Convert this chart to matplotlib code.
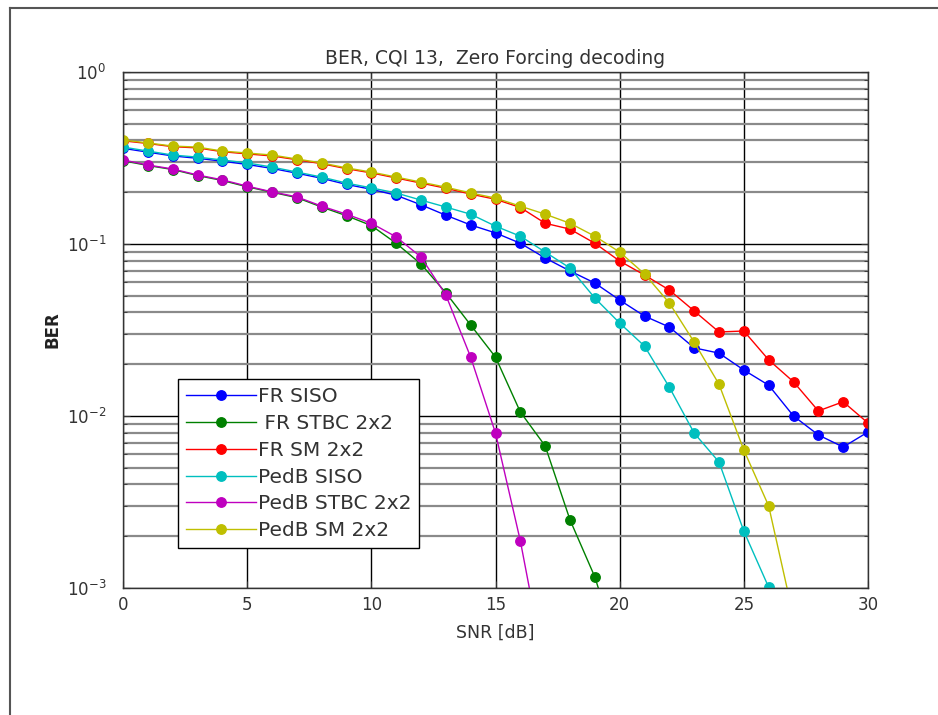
import matplotlib
matplotlib.use("Agg")
import matplotlib.pyplot as plt
from matplotlib.lines import Line2D
from matplotlib.ticker import LogLocator, FixedLocator

plt.rcParams['font.family'] = ['DejaVu Sans']

snr = list(range(0, 31))

fr_siso = [0.36, 0.342, 0.325, 0.315, 0.303, 0.29, 0.275, 0.258, 0.241, 0.222, 0.208, 0.192,
           0.169, 0.147, 0.129, 0.116, 0.101, 0.0829, 0.0697, 0.0593, 0.0472, 0.0381, 0.0329,
           0.0249, 0.0232, 0.0185, 0.0151, 0.0100, 0.00776, 0.0066, 0.00807]
fr_stbc = [0.305, 0.286, 0.271, 0.25, 0.234, 0.215, 0.2, 0.186, 0.164, 0.146, 0.128,
           0.101, 0.0765, 0.052, 0.0338, 0.0220, 0.01055, 0.0067, 0.00249, 0.00116, 0.0004]
fr_sm = [0.398, 0.384, 0.368, 0.362, 0.344, 0.334, 0.325, 0.309, 0.293, 0.274, 0.259, 0.242,
         0.226, 0.211, 0.195, 0.182, 0.163, 0.132, 0.122, 0.101, 0.0796, 0.066, 0.054,
         0.0408, 0.0308, 0.0312, 0.0212, 0.0158, 0.0107, 0.0121, 0.0091]
pedb_siso = [0.366, 0.347, 0.329, 0.320, 0.308, 0.296, 0.280, 0.262, 0.245, 0.226, 0.212,
             0.198, 0.180, 0.164, 0.149, 0.127, 0.111, 0.0898, 0.0725, 0.0485, 0.0347,
             0.0255, 0.0147, 0.00796, 0.0054, 0.00214, 0.00101]
pedb_stbc = [0.308, 0.288, 0.273, 0.252, 0.236, 0.217, 0.201, 0.188, 0.166, 0.149, 0.132,
             0.110, 0.0840, 0.0505, 0.0220, 0.00796, 0.00188, 0.00033]
pedb_sm = [0.402, 0.387, 0.371, 0.366, 0.347, 0.338, 0.329, 0.312, 0.296, 0.277, 0.262,
           0.245, 0.229, 0.214, 0.198, 0.185, 0.166, 0.149, 0.132, 0.111, 0.0898, 0.0670,
           0.0454, 0.0269, 0.0153, 0.00634, 0.0030, 0.00068]

labels = ['FR SISO', ' FR STBC 2x2', 'FR SM 2x2', 'PedB SISO', 'PedB STBC 2x2', 'PedB SM 2x2']
colors = ['#0000ff', '#008000', '#ff0000', '#00bfbf', '#bf00bf', '#bfbf00']
series = [fr_siso, fr_stbc, fr_sm, pedb_siso, pedb_stbc, pedb_sm]

x_ticks = [0, 5, 10, 15, 20, 25, 30]

fig = plt.figure(figsize=(9.38, 7.15), dpi=100)
fig.patch.set_facecolor('white')
W, H = 938, 715
ax = fig.add_axes([123 / W, 1 - 588 / H, 745 / W, 516 / H])

for vals, lab, col in zip(series, labels, colors):
    ax.plot(snr[:len(vals)], vals, '-o', color=col, label=lab, lw=1.0,
            markersize=6.8, markeredgecolor=col, markerfacecolor=col)

ax.set_yscale('log')
ax.set_xlim(0, 30)
ax.set_ylim(1e-3, 1)
ax.xaxis.set_major_locator(FixedLocator(x_ticks))
ax.yaxis.set_major_locator(LogLocator(base=10, numticks=10))
ax.yaxis.set_minor_locator(LogLocator(base=10, subs=range(2, 10), numticks=20))

ax.grid(True, which='major', axis='both', color='black', lw=1.0, ls='-')
ax.grid(True, which='minor', axis='y', color='#8a8a8a', lw=1.6, ls='-')
ax.set_axisbelow(True)

ax.tick_params(which='both', direction='in', colors='#333333', labelsize=12,
               top=True, right=True)
ax.tick_params(which='major', length=5)
ax.tick_params(which='minor', length=3)
ax.tick_params(axis='x', pad=6)
ax.tick_params(axis='y', pad=12)
for s in ax.spines.values():
    s.set_color('#333333')
    s.set_linewidth(1.0)

ax.set_title('BER, CQI 13,  Zero Forcing decoding', fontsize=13.5, color='#333333', pad=6)
ax.set_xlabel('SNR [dB]', fontsize=12.5, color='#333333', labelpad=7)
ax.set_ylabel('BER', fontsize=12, color='#222222', fontweight='bold', labelpad=4)

leg = ax.legend(loc='lower left', bbox_to_anchor=((178 - 123) / 745, (588 - 548) / 516),
                fontsize=14.5, frameon=True, fancybox=False, framealpha=1,
                edgecolor='black', handlelength=3.5, handletextpad=0.1,
                labelspacing=0.39, borderpad=0.38, borderaxespad=0)
leg.get_frame().set_linewidth(1.0)
for t in leg.get_texts():
    t.set_color('#333333')
for h in leg.get_lines():
    h.set_linewidth(1.0)

# outer frame lines of the screenshot
fig.add_artist(Line2D([10 / W, 10 / W], [0, 1 - 8 / H], transform=fig.transFigure,
                      color='#555555', lw=1.5))
fig.add_artist(Line2D([10 / W, 1], [1 - 8 / H, 1 - 8 / H], transform=fig.transFigure,
                      color='#555555', lw=1.5))

fig.savefig('out.png', dpi=100)
